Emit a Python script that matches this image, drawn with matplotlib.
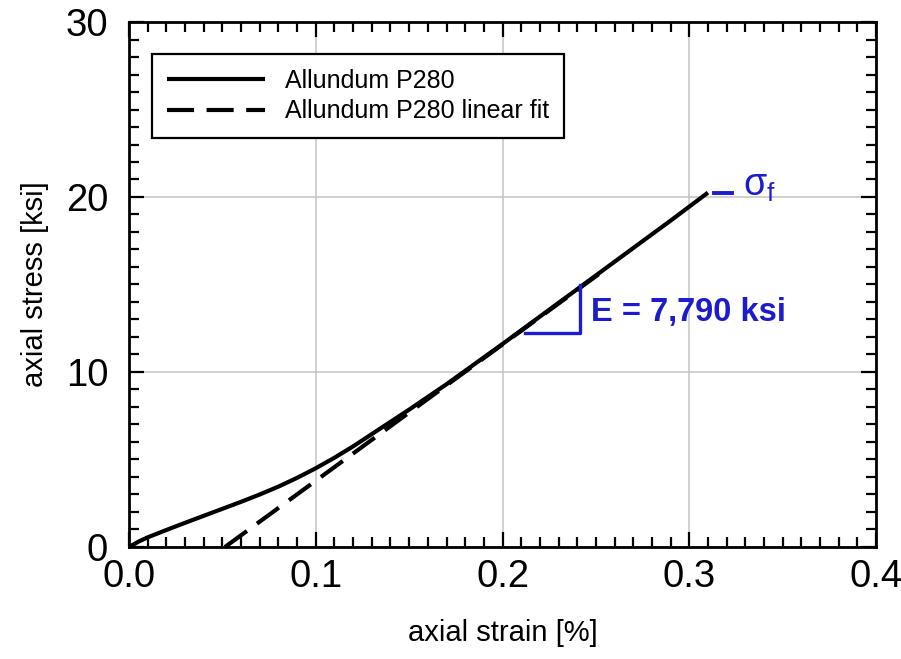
import matplotlib
matplotlib.use("Agg")
import matplotlib.pyplot as plt
from matplotlib.ticker import MultipleLocator

plt.rcParams['font.family'] = ['Liberation Sans', 'DejaVu Sans']
plt.rcParams['mathtext.fontset'] = 'custom'
plt.rcParams['mathtext.rm'] = 'Liberation Sans'
plt.rcParams['mathtext.it'] = 'Liberation Sans'

# data
strain = [0.0, 0.005, 0.01, 0.02, 0.03, 0.04, 0.05, 0.06, 0.07, 0.08, 0.09, 0.10,
          0.11, 0.12, 0.13, 0.14, 0.15, 0.17, 0.20, 0.23, 0.26, 0.29, 0.31]
stress = [0.0, 0.3, 0.55, 0.97, 1.38, 1.78, 2.18, 2.58, 3.0, 3.45, 3.95, 4.5,
          5.1, 5.75, 6.45, 7.15, 7.85, 9.3, 11.6, 13.95, 16.3, 18.65, 20.25]
fit_strain = [0.0514, 0.255]
fit_stress = [0.0, 15.86]
label_solid = "Allundum P280"
label_fit = "Allundum P280 linear fit"
modulus_text = "E = 7,790 ksi"
tri_x = [0.212, 0.2415, 0.2415]
tri_y = [12.25, 12.25, 14.95]
sf_x = [0.313, 0.323]
sf_y = [20.2, 20.2]
xticks = [0.0, 0.1, 0.2, 0.3, 0.4]
xticklabels = ['0.0', '0.1', '0.2', '0.3', '0.4']
yticks = [0, 10, 20, 30]
yticklabels = ['0', '10', '20', '30']

blue = '#1c1ccc'

fig = plt.figure(figsize=(9.01, 6.59), dpi=100)
ax = fig.add_axes([0.1432, 0.170, 0.8291, 0.7966])

ax.plot(strain, stress, color='black', lw=3.0, label=label_solid, zorder=4,
        solid_capstyle='butt')
ax.plot(fit_strain, fit_stress, color='black', lw=3.0, linestyle=(0, (6.5, 3.0)),
        label=label_fit, zorder=3)

ax.plot(tri_x, tri_y, color=blue, lw=2.4, zorder=5)
ax.plot(sf_x, sf_y, color=blue, lw=2.8, zorder=5)
ax.text(0.2475, 13.4, modulus_text, color=blue, fontsize=23.5, fontweight='bold',
        va='center', ha='left')
ax.text(0.3285, 20.6, r'$\sigma_{\mathrm{f}}$', color=blue, fontsize=27,
        va='center', ha='left')

ax.set_xlim(0, 0.4)
ax.set_ylim(0, 30)
ax.set_xticks(xticks)
ax.set_xticklabels(xticklabels)
ax.set_yticks(yticks)
ax.set_yticklabels(yticklabels)
ax.xaxis.set_minor_locator(MultipleLocator(0.01))
ax.yaxis.set_minor_locator(MultipleLocator(1))

ax.grid(True, which='major', color='#c4c4c4', lw=1.1)
ax.set_axisbelow(True)
ax.tick_params(which='both', direction='in', top=True, right=True, width=1.6, colors='black')
ax.tick_params(which='major', length=11, labelsize=27.5)
ax.tick_params(axis='x', which='major', pad=9)
ax.tick_params(axis='y', which='major', pad=15)
ax.tick_params(which='minor', length=7.5)
for s in ax.spines.values():
    s.set_linewidth(2.0)

ax.set_xlabel("axial strain [%]", fontsize=21, labelpad=17)
ax.set_ylabel("axial stress [ksi]", fontsize=21, labelpad=12)

leg = ax.legend(loc='upper left', bbox_to_anchor=(0.031, 0.939), fontsize=18,
                frameon=True, fancybox=False, edgecolor='black', handlelength=3.9,
                borderpad=0.6, labelspacing=0.25, handletextpad=0.8, borderaxespad=0)
leg.get_frame().set_linewidth(1.6)
leg.get_frame().set_alpha(1)

fig.savefig("out.png", dpi=100)
